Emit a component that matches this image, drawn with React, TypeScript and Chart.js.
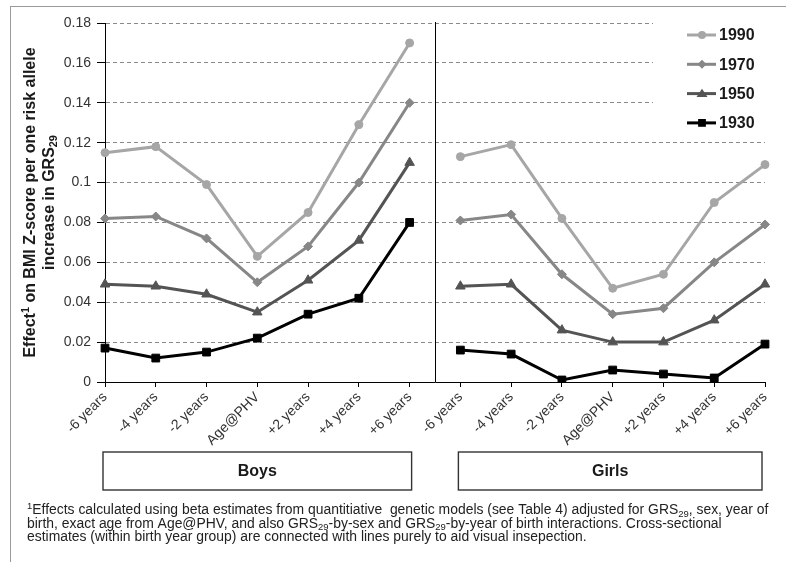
import React, { useEffect, useRef } from 'react';
import { Chart, registerables } from 'chart.js';

Chart.register(...registerables);

// ---------------- data ----------------
const periods = ['-6 years', '-4 years', '-2 years', 'Age@PHV', '+2 years', '+4 years', '+6 years'];
const categories = [...periods, ...periods];
const groups = ['Boys', 'Girls'];

const boys1990 = [0.115, 0.118, 0.099, 0.063, 0.085, 0.129, 0.170];
const girls1990 = [0.113, 0.119, 0.082, 0.047, 0.054, 0.090, 0.109];
const boys1970 = [0.082, 0.083, 0.072, 0.050, 0.068, 0.100, 0.140];
const girls1970 = [0.081, 0.084, 0.054, 0.034, 0.037, 0.060, 0.079];
const boys1950 = [0.049, 0.048, 0.044, 0.035, 0.051, 0.071, 0.110];
const girls1950 = [0.048, 0.049, 0.026, 0.020, 0.020, 0.031, 0.049];
const boys1930 = [0.017, 0.012, 0.015, 0.022, 0.034, 0.042, 0.080];
const girls1930 = [0.016, 0.014, 0.001, 0.006, 0.004, 0.002, 0.019];

const seriesNames = ['1990', '1970', '1950', '1930'];
const seriesBoys = [boys1990, boys1970, boys1950, boys1930];
const seriesGirls = [girls1990, girls1970, girls1950, girls1930];
const seriesColors = ['#a6a6a6', '#878787', '#545454', '#000000'];
const seriesMarkers = ['circle', 'rectRot', 'triangle', 'rect'];
const seriesRadius = [4, 4.5, 5.5, 5.5];

const yMin = 0;
const yMax = 0.18;
const yStep = 0.02;

const FONT = '"Liberation Sans", Arial, Helvetica, sans-serif';

type Seg = { t: string; k?: 'sup' | 'sub' };

function fontFor(size: number, bold: boolean, small: boolean) {
  const s = small ? size * 0.68 : size;
  return `${bold ? 'bold ' : ''}${s.toFixed(2)}px ${FONT}`;
}

function richWidth(ctx: CanvasRenderingContext2D, segs: Seg[], size: number, bold: boolean) {
  let total = 0;
  for (const s of segs) {
    ctx.font = fontFor(size, bold, !!s.k);
    total += ctx.measureText(s.t).width;
  }
  return total;
}

function drawRich(
  ctx: CanvasRenderingContext2D,
  segs: Seg[],
  x: number,
  y: number,
  size: number,
  bold: boolean,
  align: 'left' | 'center',
  justifyTo?: number
) {
  const total = richWidth(ctx, segs, size, bold);
  let extra = 0;
  if (justifyTo) {
    const spaces = segs.reduce((n, s) => n + (s.k ? 0 : (s.t.match(/ /g) || []).length), 0);
    if (spaces > 0) extra = Math.max(0, (justifyTo - total) / spaces);
  }
  let cx = align === 'center' ? x - total / 2 : x;
  ctx.textAlign = 'left';
  ctx.textBaseline = 'alphabetic';
  for (const s of segs) {
    ctx.font = fontFor(size, bold, !!s.k);
    const dy = s.k === 'sup' ? -size * 0.36 : s.k === 'sub' ? size * 0.2 : 0;
    if (extra > 0 && !s.k) {
      const parts = s.t.split(' ');
      parts.forEach((p, pi) => {
        ctx.fillText(p, cx, y + dy);
        cx += ctx.measureText(p).width;
        if (pi < parts.length - 1) cx += ctx.measureText(' ').width + extra;
      });
    } else {
      ctx.fillText(s.t, cx, y + dy);
      cx += ctx.measureText(s.t).width;
    }
  }
}

const titleLine1: Seg[] = [{ t: 'Effect' }, { t: '1', k: 'sup' }, { t: ' on BMI Z-score per one risk allele' }];
const titleLine2: Seg[] = [{ t: 'increase in GRS' }, { t: '29', k: 'sub' }];

const noteLines: Seg[][] = [
  [
    { t: '1', k: 'sup' },
    { t: 'Effects calculated using beta estimates from quantitiative  genetic models (see Table 4) adjusted for GRS' },
    { t: '29', k: 'sub' },
    { t: ', sex, year of' },
  ],
  [
    { t: 'birth, exact age from Age@PHV, and also GRS' },
    { t: '29', k: 'sub' },
    { t: '-by-sex and GRS' },
    { t: '29', k: 'sub' },
    { t: '-by-year of birth interactions. Cross-sectional' },
  ],
  [{ t: 'estimates (within birth year group) are connected with lines purely to aid visual insepection.' }],
];

function drawMarker(ctx: CanvasRenderingContext2D, kind: string, x: number, y: number, r: number) {
  ctx.beginPath();
  if (kind === 'circle') {
    ctx.arc(x, y, r, 0, Math.PI * 2);
  } else if (kind === 'rectRot') {
    ctx.moveTo(x, y - r);
    ctx.lineTo(x + r, y);
    ctx.lineTo(x, y + r);
    ctx.lineTo(x - r, y);
    ctx.closePath();
  } else if (kind === 'triangle') {
    const h = r * 1.5;
    ctx.moveTo(x, y - h * 0.6);
    ctx.lineTo(x + r, y + h * 0.4);
    ctx.lineTo(x - r, y + h * 0.4);
    ctx.closePath();
  } else {
    const s = r * Math.SQRT1_2;
    ctx.rect(x - s, y - s, 2 * s, 2 * s);
  }
  ctx.fill();
}

const decorPlugin = {
  id: 'decor',
  afterDraw(chart: any) {
    const ctx: CanvasRenderingContext2D = chart.ctx;
    const xs = chart.scales.x;
    const area = chart.chartArea;
    ctx.save();

    // outer frame
    ctx.strokeStyle = '#9a9a9a';
    ctx.lineWidth = 1;
    ctx.strokeRect(10.5, 6.5, 900, 700);

    // separator between groups
    const sepX = Math.round((xs.getPixelForValue(periods.length - 1) + xs.getPixelForValue(periods.length)) / 2) + 0.5;
    ctx.strokeStyle = '#000';
    ctx.lineWidth = 1;
    ctx.beginPath();
    ctx.moveTo(sepX, area.top - 1);
    ctx.lineTo(sepX, area.bottom);
    ctx.stroke();

    // group boxes
    groups.forEach((g, gi) => {
      const x0 = xs.getPixelForValue(gi * periods.length) - 2;
      const x1 = xs.getPixelForValue(gi * periods.length + periods.length - 1) + (gi === 0 ? 2 : -3);
      const top = area.bottom + 70;
      const h = 38;
      ctx.strokeStyle = '#333';
      ctx.lineWidth = 1.4;
      ctx.strokeRect(x0, top, x1 - x0, h);
      ctx.fillStyle = '#1a1a1a';
      ctx.font = `bold 16px ${FONT}`;
      ctx.textAlign = 'center';
      ctx.textBaseline = 'middle';
      ctx.fillText(g, (x0 + x1) / 2, top + h / 2 + 1);
    });

    // legend
    ctx.fillStyle = '#fff';
    ctx.fillRect(653, 12, 140, 124);
    const ly0 = 35;
    const lstep = 29.3;
    seriesNames.forEach((n, i) => {
      const y = ly0 + i * lstep;
      ctx.strokeStyle = seriesColors[i];
      ctx.fillStyle = seriesColors[i];
      ctx.lineWidth = 3;
      ctx.beginPath();
      ctx.moveTo(687, y);
      ctx.lineTo(716, y);
      ctx.stroke();
      drawMarker(ctx, seriesMarkers[i], 702, y, seriesRadius[i]);
      ctx.fillStyle = '#1a1a1a';
      ctx.font = `bold 16px ${FONT}`;
      ctx.textAlign = 'left';
      ctx.textBaseline = 'middle';
      ctx.fillText(n, 719, y + 1);
    });

    // y axis title
    ctx.fillStyle = '#1a1a1a';
    const cy = (area.top + area.bottom) / 2;
    ctx.save();
    ctx.translate(29, cy);
    ctx.rotate(-Math.PI / 2);
    drawRich(ctx, titleLine1, 0, 6, 16, true, 'center');
    ctx.restore();
    ctx.save();
    ctx.translate(48, cy);
    ctx.rotate(-Math.PI / 2);
    drawRich(ctx, titleLine2, 0, 6, 16, true, 'center');
    ctx.restore();

    // footnote: size chosen so line 2 ends where the reference's does; line 1 justified
    const noteLeft = 27;
    const w13 = richWidth(ctx, noteLines[1], 13, false);
    const fs = Math.max(11, Math.min(14, (13 * (722 - noteLeft)) / w13));
    ctx.fillStyle = '#222';
    const baselines = [514, 527.5, 541];
    noteLines.forEach((ln, i) =>
      drawRich(ctx, ln, noteLeft, baselines[i], fs, false, 'left', i === 0 ? 768 - noteLeft : undefined)
    );

    ctx.restore();
  },
};

export default function App() {
  const ref = useRef<HTMLCanvasElement>(null);

  useEffect(() => {
    const canvas = ref.current;
    if (!canvas) return;

    const datasets = seriesNames.map((name, i) => ({
      label: name,
      data: [...seriesBoys[i], ...seriesGirls[i]],
      borderColor: seriesColors[i],
      backgroundColor: seriesColors[i],
      pointBackgroundColor: seriesColors[i],
      pointBorderColor: seriesColors[i],
      pointStyle: seriesMarkers[i] as any,
      pointRadius: seriesRadius[i],
      pointBorderWidth: 1,
      borderWidth: 3,
      tension: 0,
      segment: {
        borderColor: (c: any) => (c.p0DataIndex === periods.length - 1 ? 'rgba(0,0,0,0)' : undefined),
      },
    }));

    const chart = new Chart(canvas, {
      type: 'line',
      data: { labels: categories, datasets },
      options: {
        responsive: false,
        animation: false,
        devicePixelRatio: 1,
        layout: { padding: { left: 0, right: 21, top: 23, bottom: 110 } },
        plugins: { legend: { display: false }, tooltip: { enabled: false }, title: { display: false } },
        scales: {
          x: {
            type: 'category',
            offset: false,
            afterFit: (s: any) => {
              s.height = 70;
            },
            grid: {
              display: true,
              drawOnChartArea: false,
              drawTicks: true,
              tickLength: 5,
              color: '#000',
              tickColor: '#000',
              offset: false,
            },
            border: { display: true, color: '#000', width: 1 },
            ticks: {
              autoSkip: false,
              minRotation: 45,
              maxRotation: 45,
              padding: 2,
              color: '#333',
              font: { family: FONT, size: 14 },
            },
          },
          y: {
            min: yMin,
            max: yMax,
            afterFit: (s: any) => {
              s.width = 105;
            },
            grid: {
              color: (c: any) => (c.tick && Math.abs(c.tick.value) < 1e-9 ? 'rgba(0,0,0,0)' : '#8a8a8a'),
              tickColor: '#000',
              tickLength: 8,
              tickBorderDash: [1, 0],
              lineWidth: 1,
            },
            border: { display: true, color: '#000', width: 1, dash: [4, 3] },
            ticks: {
              stepSize: yStep,
              padding: 6,
              color: '#333',
              font: { family: FONT, size: 14 },
              callback: (v: any) => String(parseFloat(Number(v).toFixed(2))),
            },
          },
        },
      },
      plugins: [decorPlugin],
    });

    return () => chart.destroy();
  }, []);

  return (
    <div style={{ position: 'absolute', left: 0, top: 0, width: 786, height: 562, background: '#fff' }}>
      <canvas ref={ref} width={786} height={562} style={{ display: 'block', width: 786, height: 562 }} />
    </div>
  );
}
